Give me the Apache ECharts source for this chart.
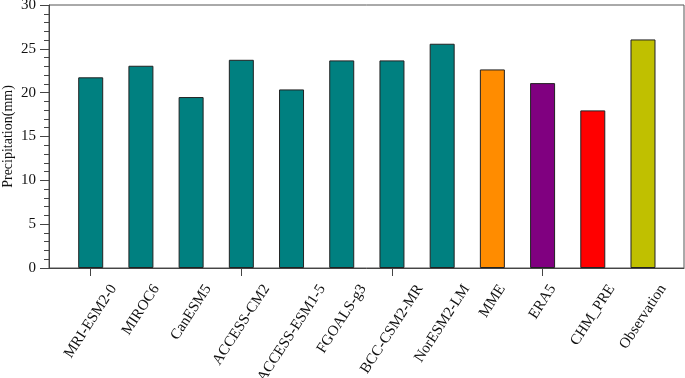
<!DOCTYPE html>
<html>
<head>
	<meta http-equiv="content-type" content="text/html;charset=utf-8">
	<title></title>
	<script src="https://cdn.jsdelivr.net/npm/echarts@6/dist/echarts.min.js" type="text/javascript"></script>
	<style>
		html, body { margin:0; padding:0; background:#fff; }
		#chart { width:685px; height:378px; }
	</style>
</head>
<body>
	<div id="chart"></div>
	<script type="text/javascript">
		var models = ['MRI-ESM2-0', 'MIROC6', 'CanESM5', 'ACCESS-CM2', 'ACCESS-ESM1-5', 'FGOALS-g3',
			'BCC-CSM2-MR', 'NorESM2-LM', 'MME', 'ERA5', 'CHM_PRE', 'Observation'];
		var precip = [21.75, 23.07, 19.5, 23.75, 20.37, 23.68, 23.68, 25.58, 22.65, 21.09, 17.98, 26.07];
		var barColors = ['#008080', '#008080', '#008080', '#008080', '#008080', '#008080',
			'#008080', '#008080', '#FF8C00', '#800080', '#FF0000', '#C0C000'];
		var yTicks = [0, 5, 10, 15, 20, 25, 30];

		var fontName = '"Liberation Serif", "Times New Roman", serif';
		var labelSize = 15;
		var labelAngle = 57 * Math.PI / 180;

		// measure the label widths so each rotated label can be centred under its tick
		var ctx = document.createElement('canvas').getContext('2d');
		ctx.font = labelSize + 'px ' + fontName;
		function textWidth(s) { return ctx.measureText(s).width; }

		var myChart = echarts.init(document.getElementById('chart'));

		var option = {
			animation: false,
			grid: [
				{ left: 49, right: 1, top: 5, bottom: 110, show: true, borderColor: '#555', borderWidth: 1, outerBoundsMode: 'none' },
				{ left: 65.6, right: 16.9, top: 5, bottom: 110, outerBoundsMode: 'none' }
			],
			xAxis: [
				{
					gridIndex: 0, type: 'value', min: 0, max: 1,
					axisLine: { show: true, onZero: false, lineStyle: { color: '#444', width: 1 } },
					axisTick: { show: false }, axisLabel: { show: false }, splitLine: { show: false }
				},
				{
					gridIndex: 1, type: 'category', data: models,
					axisLine: { show: false },
					axisTick: { show: true, alignWithLabel: true, length: 8, lineStyle: { color: '#444' } },
					axisLabel: { show: false },
					splitLine: { show: false }
				}
			],
			yAxis: [
				{
					gridIndex: 0, type: 'value', min: yTicks[0], max: yTicks[yTicks.length - 1], interval: 5,
					name: 'Precipitation(mm)', nameLocation: 'middle', nameGap: 34, nameMoveOverlap: false,
					nameTextStyle: { fontFamily: fontName, fontSize: 14, color: '#111' },
					axisLine: { show: true, lineStyle: { color: '#444', width: 1 } },
					axisTick: { show: true, length: 9, lineStyle: { color: '#444' } },
					minorTick: { show: true, splitNumber: 5, length: 5, lineStyle: { color: '#444' } },
					axisLabel: { margin: 13, fontFamily: fontName, fontSize: 15, color: '#111' },
					splitLine: { show: false }
				},
				{
					gridIndex: 1, type: 'value', min: yTicks[0], max: yTicks[yTicks.length - 1], interval: 5,
					show: false, splitLine: { show: false }
				}
			],
			series: [{
				type: 'bar',
				xAxisIndex: 1,
				yAxisIndex: 1,
				barWidth: 25,
				data: precip.map(function (v, i) {
					return { value: v, itemStyle: { color: barColors[i] } };
				}),
				itemStyle: { borderColor: '#222', borderWidth: 1 }
			}, {
				// category labels, rotated and centred under each tick
				type: 'custom',
				xAxisIndex: 1,
				yAxisIndex: 1,
				silent: true,
				clip: false,
				data: models.map(function (m, i) { return [i, 0]; }),
				encode: { x: 0, y: 1 },
				renderItem: function (params, api) {
					var i = api.value(0);
					var p = api.coord([i, 0]);
					var w = textWidth(models[i]);
					var h = labelSize;
					var cy = p[1] + 14 + (w / 2) * Math.sin(labelAngle) + (h / 2) * Math.cos(labelAngle);
					return {
						type: 'text',
						x: p[0],
						y: cy,
						rotation: labelAngle,
						style: {
							text: models[i],
							fontFamily: fontName,
							fontSize: labelSize,
							fill: '#111',
							align: 'center',
							verticalAlign: 'middle'
						}
					};
				}
			}]
		};

		myChart.setOption(option);
	</script>
</body>
</html>
